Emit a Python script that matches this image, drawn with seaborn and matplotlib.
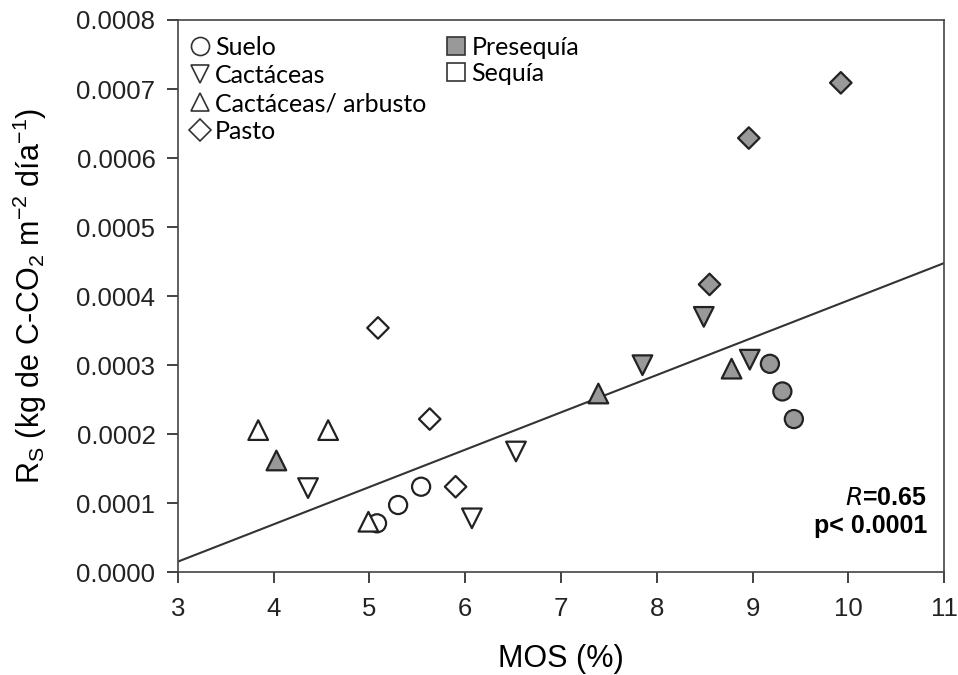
import numpy as np
import pandas as pd
import matplotlib
matplotlib.use("Agg")
import matplotlib.pyplot as plt
import seaborn as sns
from matplotlib.lines import Line2D

# Data
mos = [5.08, 5.30, 5.54, 4.99, 3.84, 4.57, 4.36, 6.07, 6.53, 5.09, 5.63, 5.90,
       9.18, 9.31, 9.43, 4.03, 7.39, 8.78, 7.85, 8.49, 8.97, 8.55, 8.96, 9.92]
rs = [0.0000710, 0.0000975, 0.000124, 0.0000733, 0.000206, 0.000206, 0.000122,
      0.0000782, 0.000175, 0.000354, 0.000222, 0.000124,
      0.000302, 0.000262, 0.000222, 0.000162, 0.000259, 0.000295, 0.000300,
      0.000370, 0.000308, 0.000417, 0.000629, 0.000709]
tipo = (["Suelo"] * 3 + ["Cactáceas/ arbusto"] * 3 + ["Cactáceas"] * 3 + ["Pasto"] * 3
        + ["Suelo"] * 3 + ["Cactáceas/ arbusto"] * 3 + ["Cactáceas"] * 3 + ["Pasto"] * 3)
periodo = ["Sequía"] * 12 + ["Presequía"] * 12

# fitted line as drawn in the figure
fit_x = [3, 11]
fit_y = [0.0000154, 0.000448]

tipos = ["Suelo", "Cactáceas", "Cactáceas/ arbusto", "Pasto"]
periodos = ["Presequía", "Sequía"]

df = pd.DataFrame({"MOS": mos, "Rs": rs, "tipo": tipo, "periodo": periodo})

markers = {"Suelo": "o", "Cactáceas": "v", "Cactáceas/ arbusto": "^", "Pasto": "D"}
colors = {"Presequía": "#999999", "Sequía": "white"}
sizes = {"Suelo": 170, "Cactáceas": 200, "Cactáceas/ arbusto": 200, "Pasto": 120}

plt.rcParams["font.family"] = ["Liberation Sans", "DejaVu Sans"]

fig = plt.figure(figsize=(9.58, 6.75), dpi=100)
ax = fig.add_axes([0.1855, 0.1521, 0.8002, 0.8183])
ax.set_xlim(3, 11)
ax.set_ylim(0, 0.0008)

sns.lineplot(x=fit_x, y=fit_y, ax=ax, color="#333333", lw=1.5)

for t in tipos:
    sub = df[df["tipo"] == t]
    sns.scatterplot(data=sub, x="MOS", y="Rs", hue="periodo", palette=colors,
                    marker=markers[t], s=sizes[t], edgecolor="#222222",
                    linewidth=1.6, ax=ax, legend=False, zorder=3)

ax.set_xticks(range(3, 12))
yt = np.arange(0, 0.00081, 0.0001)
ax.set_yticks(yt)
ax.set_yticklabels([f"{v:.4f}" for v in yt])
ax.tick_params(direction="out", length=8, width=1.2, labelsize=18.5, colors="#222222",
               top=False, right=False, pad=8)
ax.tick_params(axis="x", pad=10)
for sp in ax.spines.values():
    sp.set_linewidth(1.2)
    sp.set_color("#444444")

ax.set_xlabel("MOS (%)", fontsize=22, labelpad=16)
ax.set_ylabel("R$_\\mathregular{S}$ (kg de C-CO$_\\mathregular{2}$ m$^\\mathregular{-2}$ día$^\\mathregular{-1}$)",
              fontsize=22, labelpad=20)

ax.text(0.978, 0.122, "$\\bf{\\it{R}}$=0.65", transform=ax.transAxes, ha="right",
        fontsize=18, fontweight="bold")
ax.text(0.978, 0.072, "p< 0.0001", transform=ax.transAxes, ha="right",
        fontsize=18, fontweight="bold")

leg_font = {"family": "Lato", "size": 18}
h1 = [Line2D([], [], ls="none", marker=markers[t], markersize=13 if t != "Pasto" else 11,
             markerfacecolor="white", markeredgecolor="#333333", markeredgewidth=1.2)
      for t in tipos]
leg1 = ax.legend(h1, tipos, loc="upper left", bbox_to_anchor=(-0.017, 1.007), frameon=False,
                 prop=leg_font, handletextpad=0.0, labelspacing=0.2, handlelength=1.2,
                 borderpad=0.3)
ax.add_artist(leg1)
h2 = [Line2D([], [], ls="none", marker="s", markersize=13,
             markerfacecolor=colors[p], markeredgecolor="#333333", markeredgewidth=1.2)
      for p in periodos]
ax.legend(h2, periodos, loc="upper left", bbox_to_anchor=(0.318, 1.007), frameon=False,
          prop=leg_font, handletextpad=0.0, labelspacing=0.1, handlelength=1.2,
          borderpad=0.3)

fig.savefig("out.png", dpi=100)
